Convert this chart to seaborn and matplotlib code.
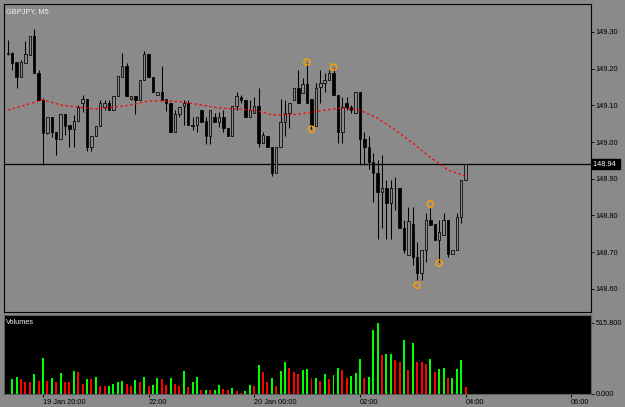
import numpy as np
import matplotlib
matplotlib.use("Agg")
import matplotlib.pyplot as plt
import matplotlib.transforms as mtransforms
import seaborn as sns

# GBPJPY M5, 19 Jan 19:20 -> 20 Jan 04:00 (105 bars)
opens = [149.240, 149.243, 149.218, 149.177, 149.215, 149.237, 149.289, 149.188, 149.115, 149.025,
         149.068, 149.027, 149.008, 149.076, 149.046, 149.035, 149.057, 149.106, 149.117, 148.986,
         149.016, 149.044, 149.095, 149.106, 149.087, 149.125, 149.177, 149.207, 149.117, 149.125,
         149.115, 149.169, 149.240, 149.177, 149.128, 149.136, 149.117, 149.106, 149.027, 149.076,
         149.098, 149.106, 149.044, 149.046, 149.087, 149.057, 149.016, 149.068, 149.055, 149.068,
         149.038, 149.016, 149.098, 149.123, 149.115, 149.068, 149.079, 149.098, 148.997, 149.016,
         148.986, 148.916, 148.986, 149.055, 149.079, 149.115, 149.147, 149.134, 149.158, 149.117,
         149.044, 149.150, 149.161, 149.169, 149.188, 149.128, 149.027, 149.106, 149.095, 149.079,
         149.136, 149.008, 148.986, 148.946, 148.916, 148.864, 148.875, 148.834, 148.875, 148.875,
         148.766, 148.692, 148.777, 148.687, 148.643, 148.706, 148.788, 148.777, 148.733, 148.747,
         148.788, 148.695, 148.706, 148.796, 148.897]
highs = [149.278, 149.245, 149.218, 149.224, 149.275, 149.289, 149.308, 149.196, 149.120, 149.068,
         149.068, 149.027, 149.076, 149.076, 149.046, 149.074, 149.101, 149.128, 149.117, 149.016,
         149.044, 149.115, 149.115, 149.115, 149.125, 149.180, 149.243, 149.215, 149.125, 149.125,
         149.169, 149.248, 149.240, 149.177, 149.136, 149.207, 149.117, 149.106, 149.087, 149.095,
         149.115, 149.115, 149.068, 149.068, 149.087, 149.068, 149.087, 149.079, 149.082, 149.087,
         149.038, 149.098, 149.136, 149.128, 149.115, 149.115, 149.123, 149.147, 149.027, 149.016,
         148.986, 148.986, 149.117, 149.115, 149.106, 149.147, 149.196, 149.174, 149.215, 149.117,
         149.161, 149.196, 149.188, 149.196, 149.202, 149.128, 149.123, 149.123, 149.101, 149.136,
         149.136, 149.027, 149.016, 148.970, 148.951, 148.965, 148.897, 148.897, 148.905, 148.875,
         148.788, 148.823, 148.823, 148.728, 148.706, 148.807, 148.820, 148.777, 148.788, 148.807,
         148.788, 148.706, 148.807, 148.897, 148.940]
lows = [149.237, 149.196, 149.147, 149.177, 149.215, 149.237, 149.188, 149.115, 148.937, 149.022,
        149.014, 148.965, 149.008, 149.019, 148.986, 148.986, 149.057, 149.082, 148.976, 148.976,
        149.016, 149.044, 149.087, 149.087, 149.087, 149.125, 149.177, 149.125, 149.115, 149.076,
        149.115, 149.169, 149.177, 149.136, 149.128, 149.115, 149.085, 149.027, 149.027, 149.068,
        149.046, 149.046, 149.033, 149.027, 149.055, 148.995, 148.995, 149.055, 149.041, 149.027,
        149.016, 149.016, 149.087, 149.106, 149.068, 149.068, 149.079, 148.986, 148.997, 148.986,
        148.907, 148.916, 148.986, 149.016, 149.038, 149.115, 149.106, 149.134, 149.106, 149.035,
        149.044, 149.106, 149.136, 149.169, 149.128, 148.997, 148.997, 149.087, 149.079, 149.079,
        148.937, 148.937, 148.927, 148.837, 148.736, 148.766, 148.736, 148.736, 148.815, 148.766,
        148.698, 148.692, 148.665, 148.624, 148.624, 148.673, 148.774, 148.733, 148.673, 148.747,
        148.687, 148.695, 148.706, 148.779, 148.897]
closes = [149.243, 149.215, 149.177, 149.218, 149.240, 149.289, 149.188, 149.115, 149.025, 149.068,
          149.027, 149.008, 149.076, 149.044, 149.035, 149.057, 149.095, 149.117, 148.986, 149.016,
          149.044, 149.106, 149.106, 149.087, 149.125, 149.180, 149.207, 149.125, 149.125, 149.115,
          149.169, 149.240, 149.177, 149.136, 149.136, 149.115, 149.106, 149.027, 149.076, 149.095,
          149.106, 149.046, 149.046, 149.068, 149.055, 149.016, 149.087, 149.055, 149.068, 149.038,
          149.016, 149.098, 149.125, 149.115, 149.068, 149.087, 149.098, 148.997, 149.019, 148.986,
          148.916, 148.986, 149.055, 149.079, 149.106, 149.147, 149.106, 149.158, 149.106, 149.044,
          149.147, 149.161, 149.169, 149.188, 149.128, 149.027, 149.095, 149.095, 149.087, 149.136,
          149.008, 148.986, 148.946, 148.916, 148.864, 148.875, 148.834, 148.875, 148.876, 148.766,
          148.706, 148.785, 148.687, 148.643, 148.706, 148.788, 148.774, 148.733, 148.755, 148.788,
          148.695, 148.706, 148.796, 148.897, 148.940]
volumes = [0, 109, 126, 105, 85, 85, 141, 97, 263, 92,
           112, 83, 148, 90, 90, 168, 156, 75, 105, 105,
           126, 56, 56, 60, 71, 83, 92, 71, 56, 102,
           83, 126, 61, 68, 112, 110, 68, 112, 75, 56,
           163, 54, 90, 126, 29, 32, 29, 32, 68, 39,
           32, 44, 19, 10, 19, 68, 61, 207, 156, 83,
           112, 56, 168, 229, 190, 156, 141, 176, 178, 117,
           119, 97, 141, 105, 134, 190, 175, 112, 129, 153,
           253, 112, 126, 462, 511, 280, 287, 292, 243, 229,
           389, 170, 365, 234, 229, 214, 255, 156, 180, 185,
           112, 117, 180, 243, 54]

# moving average every 4th bar
ma_idx = [0, 4, 8, 12, 16, 20, 24, 28, 32, 36, 40, 44, 48, 52,
          56, 60, 64, 68, 72, 76, 80, 84, 88, 92, 96, 100, 104]
ma_vals = [149.087, 149.101, 149.115, 149.101, 149.095, 149.090, 149.095, 149.101, 149.112,
           149.112, 149.109, 149.101, 149.093, 149.090, 149.087, 149.074, 149.074, 149.079,
           149.087, 149.093, 149.087, 149.065, 149.033, 148.997, 148.958, 148.924, 148.907]

# fractal marks
frac_idx = [68, 74, 69, 96, 93, 98]
frac_price = [149.218, 149.204, 149.035, 148.831, 148.610, 148.670]

time_ticks = [8, 32, 56, 80, 104, 128]
time_labels = ["19 Jan 20:00", "22:00", "20 Jan 00:00", "02:00", "04:00", "06:00"]
price_ticks = [148.60, 148.70, 148.80, 148.90, 149.00, 149.10, 149.20, 149.30]

BG = "#8a8a8a"
FS = 5.3

sns.set_theme(style="ticks")
plt.rcParams["font.family"] = ["Liberation Sans", "DejaVu Sans"]
plt.rcParams["axes.linewidth"] = 0.8

fig = plt.figure(figsize=(6.25, 4.07), dpi=100, facecolor=BG)
ax = fig.add_axes([4 / 625, 1 - 312 / 407, 587 / 625, 308 / 407], facecolor=BG)
ax_v = fig.add_axes([4 / 625, 1 - 394 / 407, 587 / 625, 79 / 407], facecolor="black")

x = np.arange(len(opens))
o = np.array(opens)
c = np.array(closes)
up = c >= o

# candles
ax.vlines(x, lows, highs, color="black", lw=0.75, zorder=2)
ax.bar(x[up], (c - o)[up], bottom=o[up], width=0.55, color=BG,
       edgecolor="black", linewidth=0.55, zorder=3)
ax.bar(x[~up], (o - c)[~up], bottom=c[~up], width=0.55, color="black",
       edgecolor="black", linewidth=0.55, zorder=3)

sns.lineplot(x=ma_idx, y=ma_vals, ax=ax, color="#ff0000", lw=0.9,
             linestyle=(0, (2, 2)), zorder=4)
sns.scatterplot(x=frac_idx, y=frac_price, ax=ax, marker="o", s=20,
                facecolors="none", edgecolor="#ffa000", linewidth=1.0, zorder=5)

ax.axhline(closes[-1], color="black", lw=0.9, zorder=1)

ax.set_xlim(-0.86, 132.5)
ax.set_ylim(148.537, 149.376)
ax.set_xticks([])
ax.yaxis.tick_right()
ax.set_yticks(price_ticks)
ax.set_yticklabels([f"{p:.2f}" for p in price_ticks])
ax.tick_params(axis="y", direction="out", length=2.5, width=0.6, pad=1,
               labelsize=FS, colors="black")
for s in ax.spines.values():
    s.set_color("black")
    s.set_linewidth(0.8)
ax.set_xlabel("")
ax.set_ylabel("")

trans = mtransforms.blended_transform_factory(ax.transAxes, ax.transData)
ax.text(1.003, closes[-1], f"{closes[-1]:.2f}  ", transform=trans, color="white",
        fontsize=FS, va="center", ha="left",
        bbox=dict(boxstyle="square,pad=0.15", fc="black", ec="black"))
ax.text(0.004, 0.988, "GBPJPY, M5", transform=ax.transAxes, color="#f2f2f2",
        fontsize=FS, va="top", ha="left")

# volumes: green when higher than the previous bar, red otherwise
vol = np.array(volumes)
vol_up = np.concatenate([[True], vol[1:] > vol[:-1]])
vol_colors = np.where(vol_up, "#00ff00", "#ff0000")
ax_v.bar(x, vol, width=0.45, color=vol_colors, linewidth=0)
ax_v.set_xlim(-0.86, 132.5)
ax_v.set_ylim(0, 570)
ax_v.set_xticks(time_ticks)
ax_v.set_xticklabels(time_labels, ha="left")
ax_v.tick_params(axis="x", direction="out", length=2.5, width=0.7, pad=1,
                 labelsize=FS, colors="black")
ax_v.yaxis.tick_right()
ax_v.set_yticks([0, 515.8])
ax_v.set_yticklabels(["0.000", "515.800"])
ax_v.tick_params(axis="y", direction="out", length=2.5, width=0.6, pad=1,
                 labelsize=FS, colors="black")
for s in ax_v.spines.values():
    s.set_color("#606060")
    s.set_linewidth(0.8)
ax_v.text(0.004, 0.95, "Volumes", transform=ax_v.transAxes, color="#f2f2f2",
          fontsize=FS, va="top", ha="left")

fig.savefig("out.png", dpi=100, facecolor=BG)
